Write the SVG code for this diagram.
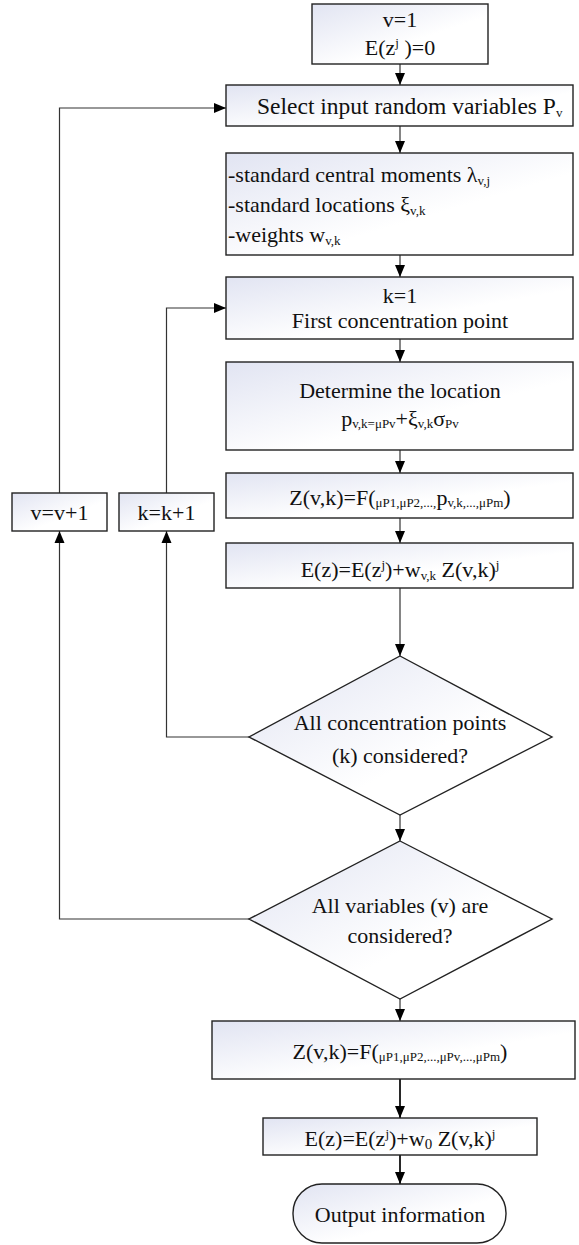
<svg xmlns="http://www.w3.org/2000/svg" width="579" height="1245" viewBox="0 0 579 1245">
<defs>
<linearGradient id="g" x1="0" y1="0" x2="1" y2="1">
<stop offset="0" stop-color="#e1e4f2"/>
<stop offset="0.6" stop-color="#ffffff"/>
<stop offset="1" stop-color="#ffffff"/>
</linearGradient>
<marker id="ah" markerUnits="userSpaceOnUse" markerWidth="12" markerHeight="12" refX="12" refY="6" orient="auto">
<path d="M0,1 L12,6 L0,11 z" fill="#000"/>
</marker>
</defs>
<style>
.box{fill:url(#g);stroke:#222;stroke-width:1.4}
.t{font-family:'Liberation Serif','Times New Roman',serif;font-size:22px;fill:#111}
.c{text-anchor:middle}
.s{font-size:13px}
.ln{fill:none;stroke:#333;stroke-width:1.2}
.lb{fill:none;stroke:#111;stroke-width:1.8}
</style>
<rect width="579" height="1245" fill="#fff"/>

<g id="connectors">
<line class="ln" x1="400" y1="64" x2="400" y2="85" marker-end="url(#ah)"/>
<line class="ln" x1="400" y1="126" x2="400" y2="153" marker-end="url(#ah)"/>
<line class="ln" x1="400" y1="255" x2="400" y2="277" marker-end="url(#ah)"/>
<line class="ln" x1="400" y1="339" x2="400" y2="362" marker-end="url(#ah)"/>
<line class="ln" x1="400" y1="450" x2="400" y2="473" marker-end="url(#ah)"/>
<line class="ln" x1="400" y1="518" x2="400" y2="543" marker-end="url(#ah)"/>
<line class="ln" x1="400" y1="588" x2="400" y2="656" marker-end="url(#ah)"/>
<line class="ln" x1="400" y1="815" x2="400" y2="841" marker-end="url(#ah)"/>
<line class="ln" x1="400" y1="999" x2="400" y2="1021" marker-end="url(#ah)"/>
<line class="lb" x1="400" y1="1079" x2="400" y2="1118" marker-end="url(#ah)"/>
<line class="lb" x1="400" y1="1155" x2="400" y2="1184" marker-end="url(#ah)"/>
<polyline class="ln" points="249,737 166.5,737 166.5,531" marker-end="url(#ah)"/>
<polyline class="ln" points="166.5,493 166.5,308 226,308" marker-end="url(#ah)"/>
<polyline class="ln" points="249,919 59.5,919 59.5,531" marker-end="url(#ah)"/>
<polyline class="ln" points="59.5,493 59.5,108 226,108" marker-end="url(#ah)"/>
</g>

<g id="n-init">
<rect class="box" x="312" y="4" width="176" height="60"/>
<text class="t c" x="400" y="27">v=1</text>
<text class="t c" x="400" y="55">E(z<tspan class="s" dy="-8">j</tspan><tspan dy="8"> )=0</tspan></text>
</g>

<g id="n-select">
<rect class="box" x="226" y="85" width="347" height="41"/>
<text class="t" x="257" y="114" style="font-size:23.5px">Select input random variables P<tspan class="s" dy="3">v</tspan></text>
</g>

<g id="n-moments">
<rect class="box" x="226" y="153" width="347" height="102"/>
<text class="t" x="228" y="182">-standard central moments λ<tspan class="s" dy="3">v,j</tspan></text>
<text class="t" x="228" y="212">-standard locations ξ<tspan class="s" dy="3">v,k</tspan></text>
<text class="t" x="228" y="242">-weights w<tspan class="s" dy="3">v,k</tspan></text>
</g>

<g id="n-k1">
<rect class="box" x="226" y="277" width="347" height="62"/>
<text class="t c" x="400" y="303">k=1</text>
<text class="t c" x="400" y="328">First concentration point</text>
</g>

<g id="n-location">
<rect class="box" x="226" y="362" width="347" height="88"/>
<text class="t c" x="400" y="398">Determine the location</text>
<text class="t c" x="400" y="426">p<tspan class="s" dy="2">v,k=μPv</tspan><tspan dy="-2">+ξ</tspan><tspan class="s" dy="2">v,k</tspan><tspan dy="-2">σ</tspan><tspan class="s" dy="2">Pv</tspan></text>
</g>

<g id="n-zvk">
<rect class="box" x="226" y="473" width="347" height="45"/>
<text class="t c" x="400" y="505">Z(v,k)=F(<tspan class="s" dy="2">μP1,μP2,...,</tspan><tspan dy="-2">p</tspan><tspan class="s" dy="2">v,k,...,μPm</tspan><tspan dy="-2">)</tspan></text>
</g>

<g id="n-ez">
<rect class="box" x="226" y="543" width="347" height="45"/>
<text class="t c" x="400" y="577">E(z)=E(z<tspan class="s" dy="-8">j</tspan><tspan dy="8">)+w</tspan><tspan class="s" dy="3">v,k</tspan><tspan dy="-3"> Z(v,k)</tspan><tspan class="s" dy="-8">j</tspan></text>
</g>

<g id="n-dk">
<polygon class="box" points="400,656 552,737 400,815 249,737"/>
<text class="t c" x="400" y="730">All concentration points</text>
<text class="t c" x="400" y="763">(k) considered?</text>
</g>

<g id="n-dv">
<polygon class="box" points="400,841 552,919 400,999 249,919"/>
<text class="t c" x="400" y="913">All variables (v) are</text>
<text class="t c" x="400" y="943">considered?</text>
</g>

<g id="n-vinc">
<rect class="box" x="12" y="493" width="95" height="38"/>
<text class="t c" x="59.5" y="520">v=v+1</text>
</g>

<g id="n-kinc">
<rect class="box" x="119" y="493" width="95" height="38"/>
<text class="t c" x="166.5" y="520">k=k+1</text>
</g>

<g id="n-zfinal">
<rect class="box" x="212" y="1021" width="363" height="58"/>
<text class="t c" x="400" y="1059">Z(v,k)=F(<tspan class="s" dy="2">μP1,μP2,...,μPv,...,μPm</tspan><tspan dy="-2">)</tspan></text>
</g>

<g id="n-efinal">
<rect class="box" x="263" y="1118" width="274" height="37"/>
<text class="t c" x="400" y="1146">E(z)=E(z<tspan class="s" dy="-8">j</tspan><tspan dy="8">)+w</tspan><tspan class="s" dy="3" style="font-size:15px">0</tspan><tspan dy="-3"> Z(v,k)</tspan><tspan class="s" dy="-8">j</tspan></text>
</g>

<g id="n-output">
<rect class="box" x="293" y="1184" width="213" height="59" rx="29" ry="29"/>
<text class="t c" x="400" y="1222">Output information</text>
</g>
</svg>
